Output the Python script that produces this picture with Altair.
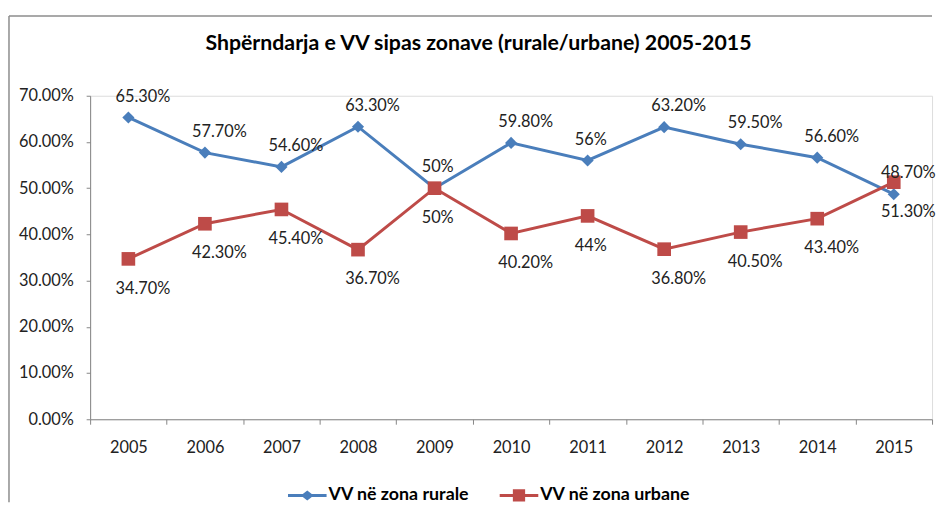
import altair as alt
import pandas as pd

# ---- data ----
years = ["2005", "2006", "2007", "2008", "2009", "2010", "2011", "2012", "2013", "2014", "2015"]
rural = [65.3, 57.7, 54.6, 63.3, 50.0, 59.8, 56.0, 63.2, 59.5, 56.6, 48.7]
urban = [34.7, 42.3, 45.4, 36.7, 50.0, 40.2, 44.0, 36.8, 40.5, 43.4, 51.3]
series_names = ["VV në zona rurale", "VV në zona urbane"]
colors = ["#4A7EBB", "#BE4B48"]
title_text = "Shpërndarja e VV sipas zonave (rurale/urbane) 2005-2015"
y_ticks = [0.0, 0.1, 0.2, 0.3, 0.4, 0.5, 0.6, 0.7]


def fmt(v):
    return f"{int(v)}%" if float(v).is_integer() else f"{v:.2f}%"


rows = []
for name, vals in zip(series_names, [rural, urban]):
    for yr, v in zip(years, vals):
        rows.append({"year": yr, "series": name, "value": v / 100.0, "label": fmt(v)})
df = pd.DataFrame(rows)

FONT = "Lato"
AX = "#868686"
W, H = 851, 327

x_enc = alt.X(
    "year:N",
    sort=years,
    bandPosition=0.5,
    scale=alt.Scale(type="band", paddingInner=0, paddingOuter=0),
    axis=alt.Axis(
        title=None, labelAngle=0, tickBand="extent", grid=False,
        domainColor=AX, tickColor=AX, tickSize=5, domainWidth=1,
        labelFont=FONT, labelFontSize=16.5, labelColor="#222", labelPadding=16,
    ),
)
y_enc = alt.Y(
    "value:Q",
    scale=alt.Scale(domain=[0, 0.7], nice=False, zero=True),
    axis=alt.Axis(
        title=None, format=".2%", values=y_ticks, grid=False,
        domainColor=AX, tickColor=AX, tickSize=4, domainWidth=1,
        labelFont=FONT, labelFontSize=16.5, labelColor="#222", labelPadding=13,
    ),
)
color_enc = alt.Color("series:N", scale=alt.Scale(domain=series_names, range=colors), legend=None)

base = alt.Chart(df)

lines = base.mark_line(strokeWidth=3).encode(x=x_enc, y=y_enc, color=color_enc)

pts_r = base.transform_filter(alt.datum.series == series_names[0]).mark_point(
    shape="diamond", filled=True, size=150, opacity=1
).encode(x=x_enc, y=y_enc, color=color_enc)
pts_u = base.transform_filter(alt.datum.series == series_names[1]).mark_point(
    shape="square", filled=True, size=190, opacity=1
).encode(x=x_enc, y=y_enc, color=color_enc)

txt_r = base.transform_filter(alt.datum.series == series_names[0]).mark_text(
    align="left", baseline="middle", dx=-13, dy=-21, font=FONT, fontSize=16.5, color="#222"
).encode(x=x_enc, y=y_enc, text="label:N")
txt_u = base.transform_filter(alt.datum.series == series_names[1]).mark_text(
    align="left", baseline="middle", dx=-13, dy=30, font=FONT, fontSize=16.5, color="#222"
).encode(x=x_enc, y=y_enc, text="label:N")

# legend symbols: line with marker (custom paths)
diam_path = "M-1,-0.15 L2.9,-0.15 L2.9,0.15 L-1,0.15 Z M0.95,-0.5 L1.6,0 L0.95,0.5 L0.3,0 Z"
sq_path = "M-1,-0.15 L2.9,-0.15 L2.9,0.15 L-1,0.15 Z M0.33,-0.62 L1.57,-0.62 L1.57,0.62 L0.33,0.62 Z"
leg = alt.Legend(
    title=None, orient="none", legendX=200, legendY=394, direction="horizontal",
    symbolSize=400, symbolStrokeWidth=0, symbolOpacity=1, labelOffset=21, columnPadding=30,
    labelFont=FONT, labelFontSize=18, labelFontWeight="bold", labelColor="#000", padding=0,
)
legend_layer = base.mark_point(filled=True, size=0, opacity=1, strokeWidth=0).encode(
    x=x_enc, y=y_enc,
    shape=alt.Shape("series:N", scale=alt.Scale(domain=series_names, range=[diam_path, sq_path]), legend=leg),
    fill=alt.Fill("series:N", scale=alt.Scale(domain=series_names, range=colors), legend=leg),
)

one = pd.DataFrame({"t": [title_text]})
frame_left = alt.Chart(one).mark_rule(color="#8c8c8c", strokeWidth=1.5).encode(
    x=alt.value(-82), y=alt.value(-80.6), y2=alt.value(411)
)
frame_top = alt.Chart(one).mark_rule(color="#8c8c8c", strokeWidth=1.5).encode(
    x=alt.value(-82), x2=alt.value(W), y=alt.value(-80.6)
)
title_mark = alt.Chart(one).mark_text(
    font=FONT, fontSize=21.5, fontWeight="bold", color="#000", align="center", baseline="middle"
).encode(x=alt.value(W / 2 - 33), y=alt.value(-52), text="t:N")

chart = alt.layer(
    frame_left, frame_top, title_mark, legend_layer, lines, pts_r, pts_u, txt_r, txt_u
).properties(
    width=W,
    height=H,
    padding={"left": 0, "top": 4, "right": 0, "bottom": 0},
).configure_view(stroke=None).configure(background="white")

chart.save("out.html", embed_options={"renderer": "svg", "actions": False})
